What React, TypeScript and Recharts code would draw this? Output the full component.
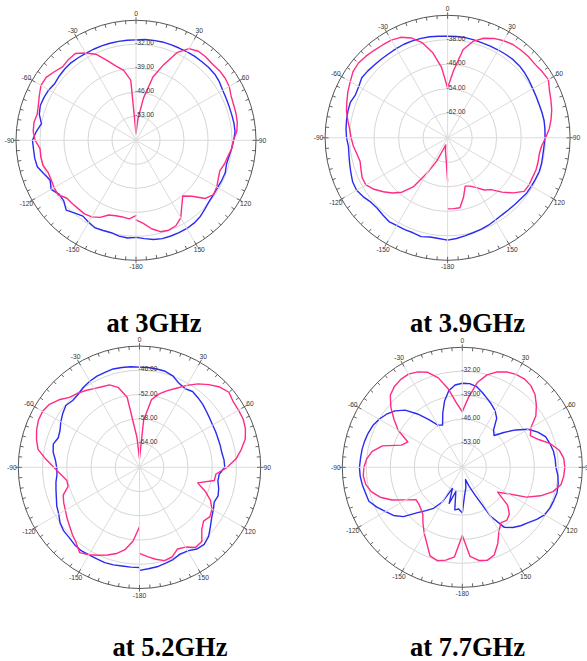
import React from 'react';
import { RadarChart, Radar, PolarGrid, PolarAngleAxis, PolarRadiusAxis } from 'recharts';

// Polar angle of each sample (degrees, 0 = top, clockwise positive)
const ANGLES = [
  -180, -175, -170, -165, -160, -155, -150, -145, -140, -135, -130, -125,
  -120, -115, -110, -105, -100, -95, -90, -85, -80, -75, -70, -65,
  -60, -55, -50, -45, -40, -35, -30, -25, -20, -15, -10, -5,
  0, 5, 10, 15, 20, 25, 30, 35, 40, 45, 50, 55,
  60, 65, 70, 75, 80, 85, 90, 95, 100, 105, 110, 115,
  120, 125, 130, 135, 140, 145, 150, 155, 160, 165, 170, 175,
  180,
];

// angle-axis tick marks every 5 degrees, labels every 30
const ANGLE_TICKS = ANGLES.slice(0, 72);

// ---- at 3GHz ----
const BLUE_3GHZ = [
  -31.7, -31.4, -31.6, -32.1, -32.0, -31.8, -32.4, -33.0, -32.3, -31.2, -32.5, -32.6,
  -31.4, -32.4, -31.4, -30.2, -30.0, -30.0, -29.8, -30.8, -32.0, -30.8, -30.3, -30.4,
  -30.6, -31.1, -30.8, -30.6, -30.5, -30.6, -30.7, -30.7, -30.7, -30.7, -30.7, -30.7,
  -30.7, -30.5, -30.4, -30.3, -30.3, -30.3, -30.2, -30.1, -30.1, -30.0, -30.0, -30.3,
  -30.8, -31.0, -31.1, -31.1, -31.0, -31.0, -31.5, -32.0, -32.5, -32.7, -32.3, -32.4,
  -32.5, -32.4, -32.2, -31.6, -30.9, -30.5, -30.3, -30.3, -30.3, -30.3, -30.6, -31.2,
  -31.7,
];
const PINK_3GHZ = [
  -38.0, -37.0, -37.3, -37.2, -36.8, -35.2, -34.2, -33.8, -33.9, -33.8, -33.7, -32.3,
  -32.4, -32.7, -32.7, -31.9, -31.8, -31.9, -30.6, -29.9, -29.8, -30.2, -29.7, -28.9,
  -28.0, -28.0, -28.9, -29.7, -29.3, -29.1, -30.6, -32.3, -35.2, -37.6, -39.3, -42.4,
  -58.0, -53.9, -47.5, -40.9, -36.6, -31.8, -29.1, -28.3, -28.3, -28.5, -28.3, -28.3,
  -28.6, -29.4, -29.7, -29.8, -30.0, -30.5, -31.6, -32.0, -32.8, -33.3, -34.0, -33.5,
  -32.8, -32.4, -33.6, -36.9, -38.8, -36.7, -33.9, -32.5, -32.1, -32.4, -33.8, -35.7,
  -36.8,
];
const RINGS_3GHZ = [-53, -46, -39, -32];
const RANGE_3GHZ: [number, number] = [-60, -25];

// ---- at 3.9GHz ----
const BLUE_39GHZ = [
  -36.6, -37.0, -37.1, -36.6, -37.0, -36.9, -36.9, -36.6, -37.1, -37.5, -37.3, -36.4,
  -35.7, -35.8, -36.4, -36.9, -37.3, -37.5, -37.0, -36.7, -36.5, -36.3, -36.2, -36.8,
  -36.5, -35.8, -36.0, -36.3, -36.4, -36.5, -36.4, -36.3, -36.3, -36.4, -36.5, -36.7,
  -36.8, -36.8, -36.8, -36.9, -37.0, -37.0, -36.9, -36.8, -36.7, -36.8, -37.1, -37.5,
  -37.9, -38.1, -38.2, -38.1, -38.0, -38.1, -38.2, -38.4, -38.4, -38.2, -38.1, -38.3,
  -38.4, -38.5, -38.9, -39.1, -39.2, -39.2, -38.9, -38.5, -38.2, -37.9, -37.5, -37.0,
  -36.6,
];
const PINK_39GHZ = [
  -55.9, -63.8, -65.9, -67.6, -66.2, -61.7, -56.9, -50.4, -46.8, -44.5, -42.6, -40.7,
  -39.2, -39.2, -39.9, -40.4, -39.9, -39.1, -38.5, -37.9, -36.9, -35.8, -35.0, -34.1,
  -33.3, -32.3, -32.0, -32.3, -32.7, -33.0, -33.2, -33.8, -35.3, -37.8, -41.7, -46.8,
  -53.7, -48.0, -40.7, -37.3, -35.4, -34.2, -33.4, -32.8, -32.7, -32.6, -32.7, -32.3,
  -32.0, -33.3, -34.1, -34.8, -35.7, -36.7, -38.0, -39.2, -39.6, -39.4, -39.3, -39.4,
  -39.3, -39.5, -42.0, -44.9, -47.9, -49.2, -51.2, -52.6, -53.2, -49.9, -46.8, -46.8,
  -46.8,
];
const RINGS_39GHZ = [-62, -54, -46, -38];
const RANGE_39GHZ: [number, number] = [-70, -30];

// ---- at 5.2GHz ----
const BLUE_52GHZ = [
  -45.2, -45.2, -45.2, -45.0, -44.9, -45.0, -45.0, -44.8, -45.0, -45.4, -45.5, -46.0,
  -46.9, -47.4, -48.1, -48.6, -49.0, -49.5, -49.5, -49.1, -48.3, -47.9, -48.6, -48.3,
  -47.5, -46.8, -46.2, -46.6, -46.4, -45.8, -45.4, -45.1, -45.0, -44.8, -44.9, -45.0,
  -45.2, -45.2, -45.3, -45.4, -45.9, -47.0, -47.5, -47.1, -47.5, -47.9, -48.4, -48.8,
  -49.1, -49.2, -49.3, -49.3, -49.3, -49.0, -48.9, -50.2, -50.3, -49.7, -49.3, -49.6,
  -48.9, -48.2, -47.1, -45.8, -45.1, -45.3, -46.1, -46.3, -45.7, -45.4, -45.0, -44.8,
  -44.5,
];
const PINK_52GHZ = [
  -55.3, -51.7, -49.3, -47.9, -46.9, -46.0, -45.0, -44.2, -45.6, -46.5, -47.4, -48.1,
  -48.8, -49.3, -49.9, -51.7, -51.7, -50.4, -48.8, -46.7, -44.5, -43.6, -42.9, -42.4,
  -42.3, -42.8, -44.0, -45.5, -46.1, -46.8, -47.5, -48.0, -48.3, -49.5, -52.4, -62.4,
  -67.8, -58.3, -53.0, -51.2, -49.8, -48.4, -46.6, -44.8, -43.3, -41.9, -41.1, -41.7,
  -41.7, -41.7, -42.1, -42.9, -44.4, -46.0, -48.3, -51.0, -51.2, -55.1, -52.7, -50.6,
  -49.3, -48.7, -49.3, -48.2, -46.0, -45.8, -47.2, -47.7, -46.4, -46.1, -46.9, -47.8,
  -48.7,
];
const RINGS_52GHZ = [-64, -58, -52, -46];
const RANGE_52GHZ: [number, number] = [-70, -40];

// ---- at 7.7GHz ----
const BLUE_77GHZ = [
  -46.7, -47.8, -47.4, -52.7, -48.8, -53.2, -48.3, -45.4, -43.5, -41.2, -37.6, -35.5,
  -34.2, -32.5, -31.0, -30.8, -30.4, -30.1, -30.0, -30.2, -30.3, -30.5, -30.8, -31.2,
  -32.0, -33.0, -34.4, -36.4, -39.7, -43.0, -45.8, -46.4, -43.3, -40.0, -37.3, -35.9,
  -35.5, -35.5, -36.1, -37.4, -38.7, -39.8, -40.9, -42.5, -45.8, -46.9, -44.2, -41.0,
  -37.8, -35.7, -34.1, -33.5, -33.0, -32.8, -32.7, -32.0, -31.6, -31.4, -31.6, -31.8,
  -32.3, -33.5, -34.9, -35.9, -37.1, -38.6, -43.5, -50.8, -54.0, -56.3, -54.0, -52.0,
  -46.7,
];
const PINK_77GHZ = [
  -40.1, -33.8, -32.5, -31.8, -32.5, -35.5, -37.8, -40.0, -42.1, -42.9, -43.4, -43.5,
  -41.0, -37.4, -34.5, -32.5, -31.4, -31.0, -31.3, -32.0, -33.3, -35.9, -41.1, -42.5,
  -38.4, -35.7, -32.8, -30.3, -29.2, -28.7, -28.6, -29.3, -30.5, -33.0, -36.9, -41.3,
  -43.8, -39.6, -34.9, -32.1, -30.4, -29.3, -28.7, -28.5, -28.9, -30.0, -31.8, -33.8,
  -36.9, -38.1, -36.3, -33.4, -31.3, -30.3, -30.1, -30.3, -30.8, -32.6, -35.7, -39.4,
  -44.6, -47.4, -42.7, -40.6, -39.8, -40.3, -38.6, -35.5, -32.8, -31.9, -32.4, -33.9,
  -40.1,
];
const RINGS_77GHZ = [-53, -46, -39, -32];
const RANGE_77GHZ: [number, number] = [-60, -25];

const CAPTIONS = ['at 3GHz', 'at 3.9GHz', 'at 5.2GHz', 'at 7.7GHz'];

const BLUE = '#2a2af2';
const PINK = '#ff2b84';
const LABEL_FONT = '"Liberation Sans", Arial, sans-serif';

// open trace through the points Recharts computed (no closing segment at +/-180)
function openTrace(color: string) {
  return (sp: any) => {
    const pts = (sp.points || []).filter(
      (pt: any) => Number.isFinite(pt.x) && Number.isFinite(pt.y),
    );
    const d = pts
      .map((pt: any, i: number) => `${i === 0 ? 'M' : 'L'}${pt.x.toFixed(2)},${pt.y.toFixed(2)}`)
      .join('');
    return (
      <path
        d={d}
        fill="none"
        stroke={color}
        strokeWidth={1.4}
        strokeLinejoin="round"
        strokeLinecap="round"
      />
    );
  };
}

type PlotProps = {
  blue: number[];
  pink: number[];
  rings: number[];
  range: [number, number];
  left: number;
  top: number;
  width: number;
  height: number;
  cx: number;
  cy: number;
  r: number;
};

function PolarPlot(p: PlotProps) {
  const data = ANGLES.map((a, i) => ({ angle: a, blue: p.blue[i], pink: p.pink[i] }));

  const angleTick = (t: any) => {
    const deg = t.payload.coordinate;
    const v = t.payload.value;
    const rad = (-deg * Math.PI) / 180;
    const ux = Math.cos(rad);
    const uy = Math.sin(rad);
    const major = v % 30 === 0;
    const inner = p.r - 3.5;
    const outer = major ? p.r + 3 : p.r;
    return (
      <g>
        {major && (
          <line
            x1={p.cx}
            y1={p.cy}
            x2={p.cx + ux * p.r}
            y2={p.cy + uy * p.r}
            stroke="#dcdcdc"
            strokeWidth={1}
          />
        )}
        <line
          x1={p.cx + ux * inner}
          y1={p.cy + uy * inner}
          x2={p.cx + ux * outer}
          y2={p.cy + uy * outer}
          stroke="#555"
          strokeWidth={0.9}
        />
        {major && (
          <text
            x={t.x}
            y={t.y}
            textAnchor="middle"
            dominantBaseline="central"
            fontSize={6.7}
            fontFamily={LABEL_FONT}
            fill="#333"
          >
            {String(v)}
          </text>
        )}
      </g>
    );
  };

  const radiusTick = (t: any) => (
    <text
      x={t.x - 1}
      y={t.y - 1.5}
      textAnchor="start"
      dominantBaseline="central"
      fontSize={6.7}
      fontFamily={LABEL_FONT}
      fill="#333"
    >
      {Number(t.payload.value).toFixed(2)}
    </text>
  );

  return (
    <div style={{ position: 'absolute', left: p.left, top: p.top, width: p.width, height: p.height }}>
      <RadarChart
        width={p.width}
        height={p.height}
        data={data}
        cx={p.cx}
        cy={p.cy}
        outerRadius={p.r}
        startAngle={-90}
        endAngle={-450}
        margin={{ top: 0, right: 0, bottom: 0, left: 0 }}
      >
        <PolarGrid gridType="circle" radialLines={false} stroke="#d6d6d6" />
        <PolarAngleAxis
          dataKey="angle"
          type="number"
          domain={[-180, 180]}
          ticks={ANGLE_TICKS}
          tick={angleTick}
          tickLine={false}
          tickSize={6.5}
          axisLineType="circle"
          stroke="#555"
        />
        <PolarRadiusAxis
          angle={90}
          type="number"
          domain={p.range}
          ticks={p.rings}
          axisLine={false}
          tickLine={false}
          tick={radiusTick}
          allowDataOverflow
        />
        <Radar
          dataKey="blue"
          stroke={BLUE}
          fill="none"
          fillOpacity={0}
          dot={false}
          shape={openTrace(BLUE)}
          isAnimationActive={false}
        />
        <Radar
          dataKey="pink"
          stroke={PINK}
          fill="none"
          fillOpacity={0}
          dot={false}
          shape={openTrace(PINK)}
          isAnimationActive={false}
        />
      </RadarChart>
    </div>
  );
}

export default function App() {
  return (
    <div
      style={{
        position: 'absolute',
        left: 0,
        top: 0,
        width: 587,
        height: 661,
        background: '#fff',
        overflow: 'hidden',
      }}
    >
      <svg width={587} height={661} style={{ position: 'absolute', left: 0, top: 0 }}>
        <g fontFamily='"Liberation Serif", "Times New Roman", serif' fontWeight="bold" fontSize={26.5} fill="#000" textAnchor="middle">
          <text x={154} y={332}>{CAPTIONS[0]}</text>
          <text x={467.5} y={332}>{CAPTIONS[1]}</text>
          <text x={170} y={656}>{CAPTIONS[2]}</text>
          <text x={467.5} y={656}>{CAPTIONS[3]}</text>
        </g>
      </svg>
      <PolarPlot blue={BLUE_3GHZ} pink={PINK_3GHZ} rings={RINGS_3GHZ} range={RANGE_3GHZ}
        left={0} top={0} width={293} height={300} cx={136} cy={140.3} r={120} />
      <PolarPlot blue={BLUE_39GHZ} pink={PINK_39GHZ} rings={RINGS_39GHZ} range={RANGE_39GHZ}
        left={293} top={0} width={294} height={300} cx={154.6} cy={137.8} r={122.5} />
      <PolarPlot blue={BLUE_52GHZ} pink={PINK_52GHZ} rings={RINGS_52GHZ} range={RANGE_52GHZ}
        left={0} top={330} width={293} height={290} cx={139.5} cy={137.3} r={121.2} />
      <PolarPlot blue={BLUE_77GHZ} pink={PINK_77GHZ} rings={RINGS_77GHZ} range={RANGE_77GHZ}
        left={293} top={330} width={294} height={290} cx={169.3} cy={137.3} r={120} />
    </div>
  );
}
